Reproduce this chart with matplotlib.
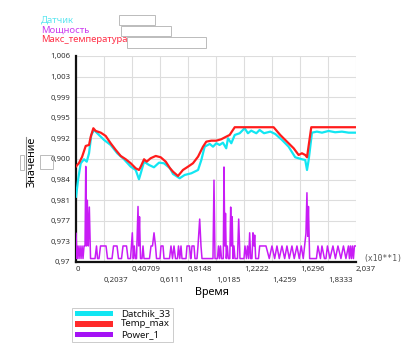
import matplotlib
matplotlib.use("Agg")
import matplotlib.pyplot as plt
from matplotlib.patches import Rectangle

plt.rcParams['font.family'] = ['Noto Sans', 'DejaVu Sans']

# Time axis (x10**1) and readings
t_sensor = [0, 0.0146, 0.034, 0.058, 0.078, 0.0946, 0.111, 0.131, 0.167, 0.204,
            0.252, 0.300, 0.349, 0.398, 0.434, 0.458, 0.471, 0.495, 0.531, 0.567,
            0.604, 0.640, 0.684, 0.706, 0.754, 0.791, 0.839, 0.888, 0.912, 0.936,
            0.973, 0.997, 1.021, 1.045, 1.069, 1.093, 1.106, 1.130, 1.155, 1.191,
            1.227, 1.251, 1.275, 1.312, 1.336, 1.368, 1.414, 1.450, 1.499, 1.547,
            1.595, 1.644, 1.668, 1.681, 1.693, 1.717, 1.753, 1.790, 1.838, 1.886,
            1.935, 1.984, 2.037]
datchik_33 = [0.98141, 0.98433, 0.98725, 0.98795, 0.98753, 0.98900, 0.99220, 0.99307, 0.99220, 0.99133,
              0.99045, 0.98900, 0.98795, 0.98666, 0.98608, 0.98446, 0.98550, 0.98753, 0.98696, 0.98655,
              0.98736, 0.98725, 0.98638, 0.98538, 0.98463, 0.98521, 0.98550, 0.98608, 0.98783, 0.99015,
              0.99063, 0.99015, 0.99075, 0.99045, 0.99085, 0.98987, 0.99162, 0.99075, 0.99220, 0.99250,
              0.99337, 0.99250, 0.99295, 0.99250, 0.99307, 0.99250, 0.99278, 0.99237, 0.99133, 0.99015,
              0.98830, 0.98795, 0.98783, 0.98608, 0.98783, 0.99260, 0.99278, 0.99260, 0.99290, 0.99267,
              0.99278, 0.99260, 0.99260]

t_temp = [0, 0.0218, 0.0437, 0.0706, 0.0946, 0.107, 0.126, 0.143, 0.180, 0.216,
          0.252, 0.289, 0.325, 0.362, 0.398, 0.434, 0.458, 0.471, 0.495, 0.514,
          0.543, 0.580, 0.616, 0.653, 0.684, 0.706, 0.742, 0.778, 0.815, 0.851,
          0.888, 0.924, 0.948, 0.984, 1.021, 1.057, 1.093, 1.118, 1.155, 1.438,
          1.486, 1.535, 1.584, 1.620, 1.644, 1.668, 1.681, 1.712, 2.037]
temp_max = [0.98670, 0.98731, 0.98835, 0.99028, 0.99045, 0.99190, 0.99337, 0.99290, 0.99260, 0.99202,
            0.99075, 0.98958, 0.98853, 0.98795, 0.98725, 0.98638, 0.98608, 0.98666, 0.98795, 0.98753,
            0.98813, 0.98853, 0.98830, 0.98753, 0.98638, 0.98578, 0.98503, 0.98608, 0.98666, 0.98725,
            0.98841, 0.99015, 0.99103, 0.99120, 0.99120, 0.99145, 0.99190, 0.99220, 0.99355, 0.99355,
            0.99220, 0.99103, 0.98987, 0.98870, 0.98900, 0.98870, 0.98830, 0.99355, 0.99355]

t_power = [0, 0.0073, 0.0146, 0.0218, 0.0291, 0.0364, 0.0437, 0.0509, 0.0582, 0.0655,
           0.0706, 0.0764, 0.0822, 0.0895, 0.0968, 0.1055, 0.1382, 0.1491, 0.1564, 0.1673,
           0.1782, 0.2183, 0.2292, 0.2619, 0.2728, 0.2983, 0.3092, 0.3310, 0.3419, 0.3674,
           0.3783, 0.3965, 0.4096, 0.4169, 0.4241, 0.4314, 0.4401, 0.4511, 0.4562, 0.4620,
           0.4692, 0.4802, 0.4874, 0.4947, 0.5347, 0.5456, 0.5565, 0.5675, 0.5784, 0.5857,
           0.6111, 0.6184, 0.6330, 0.6402, 0.6802, 0.6911, 0.7020, 0.7129, 0.7238, 0.7384,
           0.7457, 0.7551, 0.7639, 0.7712, 0.8003, 0.8076, 0.8257, 0.8330, 0.8367, 0.8439,
           0.8585, 0.8657, 0.8803, 0.8876, 0.8999, 0.9094, 0.9167, 0.9967, 1.0040, 1.0113,
           1.0294, 1.0367, 1.0440, 1.0513, 1.0585, 1.0717, 1.0768, 1.0826, 1.0877, 1.0935,
           1.1008, 1.1081, 1.1190, 1.1255, 1.1306, 1.1364, 1.1422, 1.1495, 1.1567, 1.1749,
           1.1837, 1.1931, 1.2222, 1.2295, 1.2404, 1.2477, 1.2564, 1.2637, 1.2710, 1.2804,
           1.2877, 1.2950, 1.3001, 1.3074, 1.3278, 1.3365, 1.3823, 1.4063, 1.4259, 1.4455,
           1.4623, 1.4790, 1.4987, 1.5183, 1.5350, 1.5518, 1.5714, 1.5881, 1.6078, 1.6245,
           1.6391, 1.6536, 1.6638, 1.6733, 1.6805, 1.6863, 1.6914, 1.7002, 1.7496, 1.7606,
           1.7787, 1.7897, 1.8078, 1.8188, 1.8297, 1.8479, 1.8697, 1.8879, 1.9061, 1.9279,
           1.9461, 1.9643, 1.9824, 1.9897, 1.9970, 2.0043, 2.0115, 2.0188, 2.0261, 2.037]
power_1 = [0.9750, 0.9706, 0.9728, 0.9706, 0.9728, 0.9706, 0.9728, 0.9706, 0.9728, 0.9728,
           0.9867, 0.9728, 0.9808, 0.9728, 0.9796, 0.9706, 0.9706, 0.9728, 0.9706, 0.9706,
           0.9728, 0.9728, 0.9706, 0.9706, 0.9728, 0.9728, 0.9706, 0.9706, 0.9728, 0.9728,
           0.9706, 0.9706, 0.9751, 0.9706, 0.9728, 0.9706, 0.9706, 0.9797, 0.9728, 0.9779,
           0.9706, 0.9706, 0.9728, 0.9706, 0.9706, 0.9728, 0.9728, 0.9751, 0.9728, 0.9706,
           0.9706, 0.9728, 0.9728, 0.9706, 0.9706, 0.9728, 0.9706, 0.9728, 0.9706, 0.9706,
           0.9728, 0.9706, 0.9728, 0.9706, 0.9706, 0.9728, 0.9728, 0.9706, 0.9706, 0.9728,
           0.9728, 0.9706, 0.9706, 0.9728, 0.9775, 0.9728, 0.9706, 0.9706, 0.9843, 0.9706,
           0.9706, 0.9728, 0.9706, 0.9728, 0.9706, 0.9706, 0.9866, 0.9728, 0.9785, 0.9706,
           0.9728, 0.9706, 0.9706, 0.9796, 0.9728, 0.9779, 0.9706, 0.9728, 0.9706, 0.9706,
           0.9775, 0.9706, 0.9706, 0.9728, 0.9706, 0.9728, 0.9706, 0.9751, 0.9706, 0.9706,
           0.9751, 0.9728, 0.9747, 0.9706, 0.9706, 0.9728, 0.9728, 0.9706, 0.9728, 0.9706,
           0.9728, 0.9706, 0.9728, 0.9706, 0.9728, 0.9706, 0.9728, 0.9706, 0.9728, 0.9706,
           0.9728, 0.9706, 0.9728, 0.9750, 0.9821, 0.9745, 0.9797, 0.9706, 0.9706, 0.9728,
           0.9706, 0.9728, 0.9706, 0.9706, 0.9728, 0.9706, 0.9728, 0.9706, 0.9728, 0.9706,
           0.9728, 0.9706, 0.9728, 0.9706, 0.9728, 0.9706, 0.9728, 0.9706, 0.9728, 0.9728]

x_ticks = [0, 0.2037, 0.40709, 0.6111, 0.8148, 1.0185, 1.2222, 1.4259, 1.6296, 1.8333, 2.037]
x_labels = ['0', '0,2037', '0,40709', '0,6111', '0,8148', '1,0185', '1,2222',
            '1,4259', '1,6296', '1,8333', '2,037']
y_ticks = [0.97 + 0.0036 * i for i in range(11)]
y_labels = ['0,97', '0,973', '0,977', '0,981', '0,984', '0,900', '0,992',
            '0,995', '0,999', '1,003', '1,006']

series_names = ['Datchik_33', 'Temp_max', 'Power_1']
series_colors = ['#12e6f2', '#ff1c1c', '#c81cf5']
legend_colors = ['#12e6f2', '#ff2a2a', '#a412f5']

fig = plt.figure(figsize=(4.11, 3.49), dpi=100)
ax = fig.add_axes([0.185, 0.2493, 0.681, 0.5903])

ax.plot(t_sensor, datchik_33, color=series_colors[0], lw=1.6, zorder=3)
ax.plot(t_temp, temp_max, color=series_colors[1], lw=1.6, zorder=4)
ax.plot(t_power, power_1, color=series_colors[2], lw=1.1, zorder=5)

ax.set_xlim(0, 2.037)
ax.set_ylim(0.97, 1.006)
ax.set_yticks(y_ticks)
ax.set_yticklabels(y_labels)
ax.set_xticks(x_ticks)
ax.set_xticklabels(x_labels, ha='left')
ax.tick_params(length=0, labelsize=5.6, colors='#333333')
ax.tick_params(axis='y', pad=4)
for i, tick in enumerate(ax.xaxis.get_major_ticks()):
    tick.set_pad(3 if i % 2 == 0 else 11)

ax.grid(True, color='#dddddd', lw=0.8)
ax.set_axisbelow(True)
for side in ('top', 'right'):
    ax.spines[side].set_visible(False)
for side in ('left', 'bottom'):
    ax.spines[side].set_linewidth(1.6)
    ax.spines[side].set_color('#111111')

fig.text(363 / 411, 1 - 259 / 349, '(x10**1)', family='DejaVu Sans Mono',
         fontsize=5.8, color='#555555', va='center')
fig.text(212 / 411, 1 - 293 / 349, 'Время', fontsize=7.8, ha='center', va='center')
fig.text(32 / 411, 1 - 162 / 349, 'Значение', fontsize=7.8, rotation=90,
         ha='center', va='center')

# header labels
header = [('Датчик', '#5ee6f0'), ('Мощность', '#cc3cf0'), ('Макс_температура', '#ff3048')]
for k, (txt, col) in enumerate(header):
    fig.text(41 / 411, 1 - (20 + 10 * k) / 349, txt, color=col, fontsize=6.8,
             va='center')

# empty input boxes next to the labels
for (x0, y0, x1, y1) in [(119, 15, 155, 25), (121, 26, 171, 36), (127, 37, 206, 48),
                         (40, 155, 53, 169), (20, 155, 24, 170)]:
    fig.add_artist(Rectangle((x0 / 411, 1 - y1 / 349), (x1 - x0) / 411, (y1 - y0) / 349,
                             transform=fig.transFigure, fill=False,
                             edgecolor='#bbbbbb', lw=0.7))
fig.add_artist(plt.Line2D([26 / 411, 26 / 411], [1 - 187 / 349, 1 - 137 / 349],
                          transform=fig.transFigure, color='#888888', lw=0.8))

# legend box
fig.add_artist(Rectangle((72 / 411, 1 - 342 / 349), 101 / 411, 34 / 349,
                         transform=fig.transFigure, fill=False,
                         edgecolor='#cccccc', lw=0.7))
for k, (name, col) in enumerate(zip(series_names, legend_colors)):
    yc = 1 - (313.5 + 10.5 * k) / 349
    fig.add_artist(Rectangle((75 / 411, yc - 2.8 / 349), 38 / 411, 5.6 / 349,
                             transform=fig.transFigure, color=col, lw=0))
    fig.text(121 / 411, yc, name, fontsize=6.9, va='center', color='#111111')

plt.savefig('out.png', dpi=100)
plt.close()
